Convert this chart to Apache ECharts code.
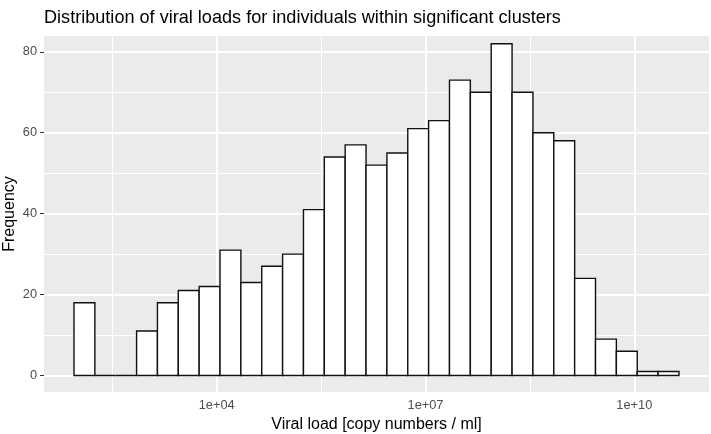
<!DOCTYPE html>
<html>
<head>
<meta charset="utf-8">
<script src="https://cdn.jsdelivr.net/npm/echarts@6/dist/echarts.min.js"></script>
<style>html,body{margin:0;padding:0;background:#fff;}#chart{width:711px;height:434px;}</style>
</head>
<body>
<div id="chart"></div>
<script>
// Histogram of log10(viral load), 29 bins
const binFirstEdgeLog = 1.95;     // log10 of lower edge of first bin
const binWidthLog = 0.2997;       // bin width in log10 units
const counts = [18, 0, 0, 11, 18, 21, 22, 31, 23, 27, 30, 41, 54, 57, 52, 55, 61, 63, 73, 70, 82, 70, 60, 58, 24, 9, 6, 1, 1];
const xTickValues = [4, 7, 10];
const xTickLabels = ['1e+04', '1e+07', '1e+10'];
const xMinorGrid = [2.5, 5.5, 8.5];
const yTickValues = [0, 20, 40, 60, 80];
const yMinorGrid = [10, 30, 50, 70];

const histData = counts.map((c, i) => [binFirstEdgeLog + i * binWidthLog, binFirstEdgeLog + (i + 1) * binWidthLog, c]);

const font = 'Liberation Sans, Arial, Helvetica, sans-serif';
const chart = echarts.init(document.getElementById('chart'), null, {renderer: 'canvas'});

const gridLines = [];
xTickValues.forEach(v => gridLines.push({xAxis: v, lineStyle: {width: 2}}));
xMinorGrid.forEach(v => gridLines.push({xAxis: v, lineStyle: {width: 1}}));
yTickValues.forEach(v => gridLines.push({yAxis: v, lineStyle: {width: 2}}));
yMinorGrid.forEach(v => gridLines.push({yAxis: v, lineStyle: {width: 1}}));

chart.setOption({
  animation: false,
  backgroundColor: '#ffffff',
  title: {
    text: 'Distribution of viral loads for individuals within significant clusters',
    left: 39, top: 4,
    textStyle: {fontFamily: font, fontSize: 18.1, fontWeight: 'normal', color: '#000'}
  },
  grid: {left: 44, right: 2, top: 36, bottom: 42, show: true, backgroundColor: '#EBEBEB', borderWidth: 0, outerBoundsMode: 'none', containLabel: false},
  xAxis: {
    type: 'value', min: 1.519, max: 11.073,
    name: 'Viral load [copy numbers / ml]', nameLocation: 'middle', nameGap: 24,
    nameTextStyle: {fontFamily: font, fontSize: 16, color: '#000'},
    axisLine: {show: false},
    axisTick: {show: true, length: 4, lineStyle: {color: '#333', width: 1}, customValues: xTickValues},
    axisLabel: {
      fontFamily: font, fontSize: 12.8, color: '#4D4D4D', margin: 7,
      customValues: xTickValues,
      formatter: v => xTickLabels[xTickValues.indexOf(v)]
    },
    splitLine: {show: false}
  },
  yAxis: {
    type: 'value', min: -4.07, max: 83.9,
    name: 'Frequency', nameLocation: 'middle', nameGap: 26, nameMoveOverlap: false,
    nameTextStyle: {fontFamily: font, fontSize: 16, color: '#000'},
    axisLine: {show: false},
    axisTick: {show: true, length: 4, lineStyle: {color: '#333', width: 1}, customValues: yTickValues},
    axisLabel: {fontFamily: font, fontSize: 12.8, color: '#4D4D4D', margin: 7, customValues: yTickValues},
    splitLine: {show: false}
  },
  series: [
    {
      type: 'line', data: [], z: 1, silent: true,
      markLine: {
        silent: true, symbol: 'none', label: {show: false},
        lineStyle: {color: '#ffffff', type: 'solid'},
        data: gridLines
      }
    },
    {
      type: 'custom', z: 5,
      data: histData,
      renderItem: function (params, api) {
        const p0 = api.coord([api.value(0), api.value(2)]);
        const p1 = api.coord([api.value(1), 0]);
        return {
          type: 'rect',
          shape: {x: p0[0], y: p0[1], width: p1[0] - p0[0], height: p1[1] - p0[1]},
          style: {fill: '#ffffff', stroke: '#111111', lineWidth: 1.4}
        };
      }
    }
  ]
});
</script>
</body>
</html>
